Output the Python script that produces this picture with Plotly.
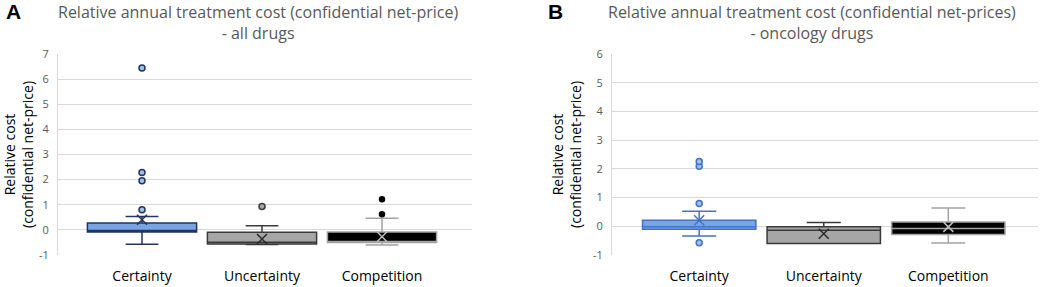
import plotly.graph_objects as go

categories = ["Certainty", "Uncertainty", "Competition"]

# Panel A - all drugs
a_q1 = [-0.08, -0.56, -0.50]
a_median = [-0.02, -0.49, -0.47]
a_q3 = [0.27, -0.09, -0.08]
a_lower = [-0.57, -0.58, -0.60]
a_upper = [0.53, 0.16, 0.46]
a_mean = [0.40, -0.36, -0.27]
a_outliers = [[0.80, 1.96, 2.28, 6.44], [0.93], [0.62, 1.22]]

# Panel B - oncology drugs
b_q1 = [-0.10, -0.60, -0.29]
b_median = [-0.02, -0.14, -0.08]
b_q3 = [0.21, -0.02, 0.15]
b_lower = [-0.34, -0.60, -0.58]
b_upper = [0.52, 0.13, 0.64]
b_mean = [0.21, -0.26, -0.02]
b_outliers = [[-0.57, 0.79, 2.09, 2.26], [], []]

a_ticks = [-1, 0, 1, 2, 3, 4, 5, 6, 7]
b_ticks = [-1, 0, 1, 2, 3, 4, 5, 6]

styles_a = [
    dict(fill="#79a5e3", line="#22355e", mean="#22355e", of="#9fc0ea", ol="#22355e", os=6),
    dict(fill="#a6a6a6", line="#3a3a3a", mean="#2a2a2a", of="#a6a6a6", ol="#3a3a3a", os=6),
    dict(fill="#000000", line="#a3a3a3", mean="#bdbdbd", of="#000000", ol="#000000", os=5),
]
styles_b = [
    dict(fill="#79a5e3", line="#4472c4", mean="#4472c4", of="#9fc0ea", ol="#4472c4", os=6),
    dict(fill="#a6a6a6", line="#3a3a3a", mean="#2a2a2a", of="#a6a6a6", ol="#3a3a3a", os=6),
    dict(fill="#000000", line="#a3a3a3", mean="#bdbdbd", of="#000000", ol="#000000", os=5),
]

fig = go.Figure()

def add_panel(q1, med, q3, lo, up, mean, outl, styles, xa, ya):
    for i in range(len(categories)):
        s = styles[i]
        fig.add_trace(go.Box(
            x=[i], q1=[q1[i]], median=[med[i]], q3=[q3[i]],
            lowerfence=[lo[i]], upperfence=[up[i]],
            width=0.91, whiskerwidth=0.3,
            fillcolor=s["fill"], line=dict(color=s["line"], width=1.5),
            xaxis=xa, yaxis=ya, showlegend=False, hoverinfo="skip",
        ))
        fig.add_trace(go.Scatter(
            x=[i], y=[mean[i]], mode="markers",
            marker=dict(symbol="x-thin-open", size=10, color=s["mean"],
                        line=dict(color=s["mean"], width=1.5)),
            xaxis=xa, yaxis=ya, showlegend=False, hoverinfo="skip",
        ))
        if outl[i]:
            fig.add_trace(go.Scatter(
                x=[i] * len(outl[i]), y=outl[i], mode="markers",
                marker=dict(symbol="circle", size=s["os"], color=s["of"],
                            line=dict(color=s["ol"], width=1.5)),
                xaxis=xa, yaxis=ya, showlegend=False, hoverinfo="skip",
            ))

add_panel(a_q1, a_median, a_q3, a_lower, a_upper, a_mean, a_outliers, styles_a, "x", "y")
add_panel(b_q1, b_median, b_q3, b_lower, b_upper, b_mean, b_outliers, styles_b, "x2", "y2")

W, H = 1045, 287

def xp(px):
    return px / W

def yp(py):
    return 1 - py / H

ydom = [yp(255), yp(54)]
grid = "#d9d9d9"
tickfont = dict(family="Open Sans", size=11, color="#595959")
catfont = dict(family="Open Sans", size=14, color="#000000")

xcommon = dict(tickmode="array", tickvals=[0, 1, 2], ticktext=categories,
               showgrid=False, zeroline=False, showline=False, ticks="",
               tickfont=catfont, ticklabelstandoff=11, fixedrange=True,
               automargin=False)
ycommon = dict(showgrid=True, gridcolor=grid, zeroline=False, showline=True,
               linecolor=grid, tickfont=tickfont, ticks="", ticklabelstandoff=6,
               automargin=False, tickmode="array")

fig.update_layout(
    width=W, height=H,
    margin=dict(l=0, r=0, t=0, b=0),
    plot_bgcolor="white", paper_bgcolor="white",
    xaxis=dict(domain=[xp(58), xp(472)], range=[-0.7, 2.75], anchor="y", **xcommon),
    xaxis2=dict(domain=[xp(612), xp(1038)], range=[-0.7, 2.72], anchor="y2", **xcommon),
    yaxis=dict(domain=ydom, range=[-1, 7], tickvals=a_ticks,
               ticktext=[str(t) for t in a_ticks], anchor="x", **ycommon),
    yaxis2=dict(domain=ydom, range=[-1, 6], tickvals=b_ticks,
                ticktext=[str(t) for t in b_ticks], anchor="x2", **ycommon),
)

titlefont = dict(family="Open Sans", size=16, color="#595959")
ytfont = dict(family="Open Sans", size=14, color="#000000")
common = dict(xref="paper", yref="paper", showarrow=False, xanchor="center", yanchor="middle")
fig.add_annotation(x=xp(258), y=yp(22),
                   text="Relative annual treatment cost (confidential net-price)<br>- all drugs",
                   font=titlefont, align="center", **common)
fig.add_annotation(x=xp(812), y=yp(22),
                   text="Relative annual treatment cost (confidential net-prices)<br>- oncology drugs",
                   font=titlefont, align="center", **common)
fig.add_annotation(x=xp(13), y=yp(12), text="<b>A</b>",
                   font=dict(family="Liberation Sans", size=21, color="#000"), **common)
fig.add_annotation(x=xp(555), y=yp(12), text="<b>B</b>",
                   font=dict(family="Liberation Sans", size=21, color="#000"), **common)
fig.add_annotation(x=xp(18), y=yp(155),
                   text="Relative cost<br>(confidential net-price)", textangle=-90,
                   font=ytfont, align="center", **common)
fig.add_annotation(x=xp(566), y=yp(155),
                   text="Relative cost<br>(confidential net-price)", textangle=-90,
                   font=ytfont, align="center", **common)

# remove the browser's default 8px body margin so the figure fills the window
fig.write_html("out.html", config={"displayModeBar": False},
               post_script="document.body.style.margin='0px';")
